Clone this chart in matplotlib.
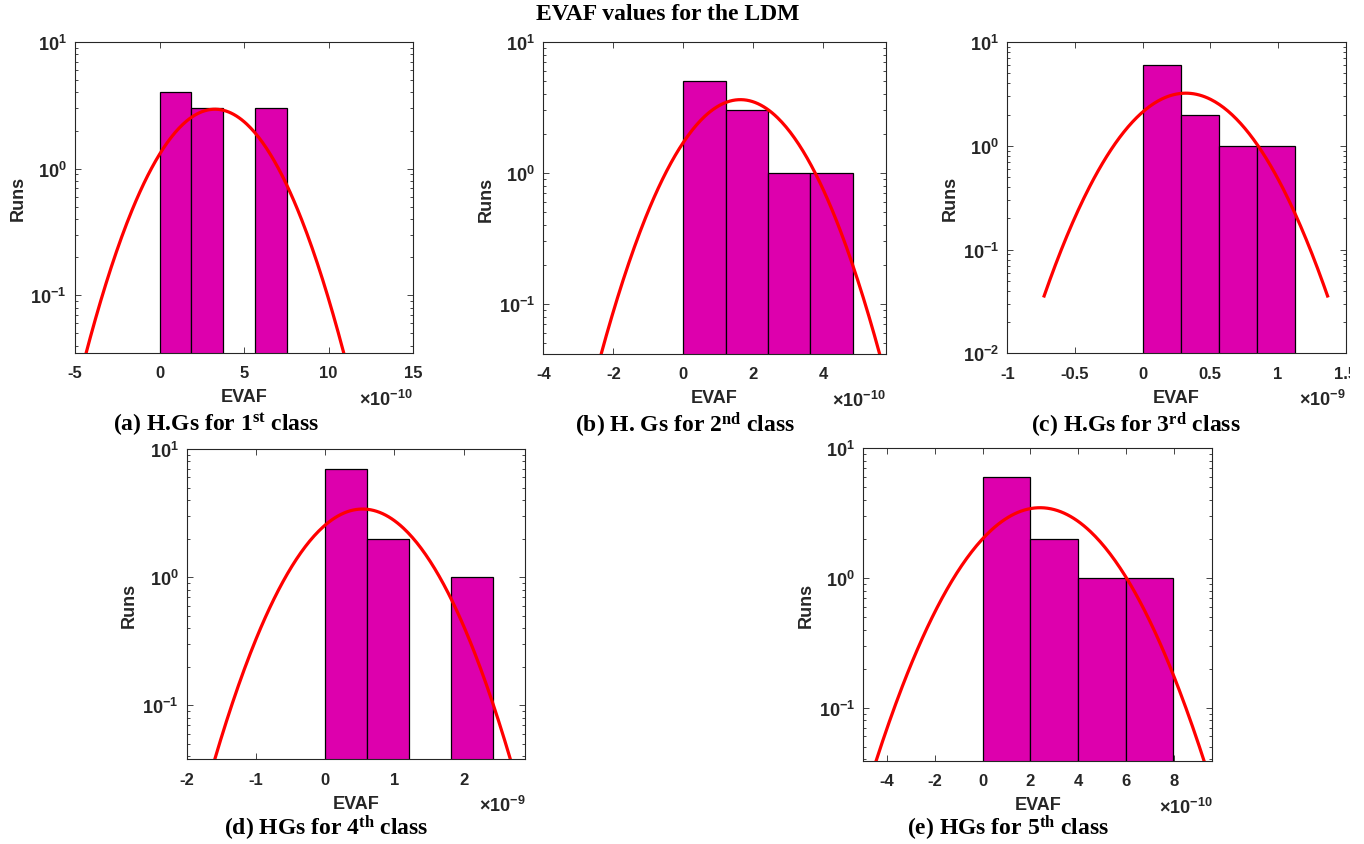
import numpy as np
import matplotlib
matplotlib.use("Agg")
import matplotlib.pyplot as plt
from matplotlib.ticker import LogLocator, FuncFormatter, NullFormatter
from matplotlib.transforms import Bbox, TransformedBbox

plt.rcParams["font.family"] = ["Liberation Sans", "DejaVu Sans"]
plt.rcParams["font.weight"] = "bold"
plt.rcParams["axes.unicode_minus"] = False

W, H = 1364, 845
gray = "#262626"
bar_color = "#DD00AD"

# bin edges (x in units of the 10^exp shown under each axis), run counts, normal fit
edges_a = [0.0, 1.89, 3.78, 5.67, 7.56]
counts_a = [4, 3, 0, 3]
mu_a, sd_a = 3.28, 2.56

edges_b = [0.0, 1.21, 2.42, 3.63, 4.85]
counts_b = [5, 3, 1, 1]
mu_b, sd_b = 1.63, 1.33

edges_c = [0.0, 0.281, 0.562, 0.843, 1.124]
counts_c = [6, 2, 1, 1]
mu_c, sd_c = 0.319, 0.349

edges_d = [0.0, 0.607, 1.214, 1.821, 2.428]
counts_d = [7, 2, 0, 1]
mu_d, sd_d = 0.54, 0.712

edges_e = [0.0, 1.99, 3.98, 5.97, 7.96]
counts_e = [6, 2, 1, 1]
mu_e, sd_e = 2.4, 2.28

exponents = [-10, -10, -9, -9, -10]
xticks_a = [-5, 0, 5, 10, 15]
xticks_b = [-4, -2, 0, 2, 4]
xticks_c = [-1, -0.5, 0, 0.5, 1, 1.5]
xticks_d = [-2, -1, 0, 1, 2]
xticks_e = [-4, -2, 0, 2, 4, 6, 8]
xlims = [(-5, 15), (-4, 5.78), (-1, 1.5), (-2, 2.89), (-4.97, 9.58)]
ylims = [(0.035, 10), (0.0415, 10), (0.01, 10), (0.038, 10), (0.039, 10)]

captions = [r"(a) H.Gs for $\mathregular{1^{st}}$ class",
            r"(b) H. Gs for $\mathregular{2^{nd}}$ class",
            r"(c) H.Gs for $\mathregular{3^{rd}}$ class",
            r"(d) HGs for $\mathregular{4^{th}}$ class",
            r"(e) HGs for $\mathregular{5^{th}}$ class"]

# axes boxes in pixels: left, top, right, bottom
boxes = [(75, 43, 413, 354), (543.3, 43, 885.7, 355), (1007.3, 43, 1345.7, 354.3),
         (186.7, 450, 525.3, 760.3), (863.3, 449.3, 1212.3, 761.7)]
cap_pos = [(216, 425), (685, 425), (1136, 425), (326, 828), (1008, 828)]

panels = [(edges_a, counts_a, mu_a, sd_a, xticks_a),
          (edges_b, counts_b, mu_b, sd_b, xticks_b),
          (edges_c, counts_c, mu_c, sd_c, xticks_c),
          (edges_d, counts_d, mu_d, sd_d, xticks_d),
          (edges_e, counts_e, mu_e, sd_e, xticks_e)]

fig = plt.figure(figsize=(W / 100, H / 100), dpi=100)
axes = []
for i, (edges, counts, mu, sd, xt) in enumerate(panels):
    l, t, r, b = boxes[i]
    w, h = r - l, b - t
    ax = fig.add_axes([l / W, 1 - b / H, w / W, h / H])
    axes.append(ax)
    ax.set_yscale("log")
    edges = np.array(edges)
    counts = np.array(counts)
    bw = np.diff(edges)
    keep = counts > 0
    ax.bar(edges[:-1][keep], counts[keep], width=bw[keep], align="edge", bottom=1e-3,
           color=bar_color, edgecolor="black", linewidth=0.9, zorder=2)
    # histfit style normal curve over +/- 3 sigma
    xx = np.linspace(mu - 3 * sd, mu + 3 * sd, 200)
    yy = counts.sum() * bw[0] / (sd * np.sqrt(2 * np.pi)) * np.exp(-0.5 * ((xx - mu) / sd) ** 2)
    ax.plot(xx, yy, color="red", lw=2.3, zorder=3)

    ax.set_xlim(*xlims[i])
    ax.set_ylim(*ylims[i])
    ax.set_xticks(xt)
    ax.set_xticklabels([("%g" % v) for v in xt])
    ax.yaxis.set_major_locator(LogLocator(base=10))
    ax.yaxis.set_major_formatter(FuncFormatter(lambda v, p: r"$\mathregular{10^{%d}}$" % round(np.log10(v))))
    ax.yaxis.set_minor_locator(LogLocator(base=10, subs=np.arange(2, 10)))
    ax.yaxis.set_minor_formatter(NullFormatter())
    ax.tick_params(which="both", direction="in", top=True, right=True, color=gray,
                   labelcolor=gray, labelsize=12, width=0.6)
    ax.tick_params(which="major", length=4)
    ax.tick_params(which="minor", length=2.5)
    ax.tick_params(axis="x", which="major", pad=9)
    ax.tick_params(axis="y", which="major", pad=6, labelsize=13)
    for s in ax.spines.values():
        s.set_color(gray)
        s.set_linewidth(0.8)

    ax.set_xlabel("EVAF", fontsize=13, fontweight="bold", color=gray, va="center")
    ax.xaxis.set_label_coords(0.5, -44 / h)
    ax.set_ylabel("Runs", fontsize=13, fontweight="bold", color=gray, va="center")
    ax.yaxis.set_label_coords(-57 / w, 0.5)
    ax.text(1.0, -46 / h, r"$\mathregular{\times10^{%d}}$" % exponents[i], transform=ax.transAxes,
            ha="right", va="center", fontsize=13, color=gray)

    cx, cy = cap_pos[i]
    fig.text(cx / W, 1 - cy / H, captions[i], ha="center", va="center",
             family="Liberation Serif", weight="bold", fontsize=17, color="black")

fig.text(667.5 / W, 1 - 15 / H, "EVAF values for the LDM", ha="center", va="center",
         family="Liberation Serif", weight="bold", fontsize=17, color="black")

# the right edge of the source image cuts the last tick label of panel (c)
fig.canvas.draw()
clip = TransformedBbox(Bbox([[0, 0], [1350 / W, 1]]), fig.transFigure)
lbl = axes[2].get_xticklabels()[-1]
lbl.set_clip_box(clip)
lbl.set_clip_on(True)

fig.savefig("out.png", dpi=100)
plt.close("all")
